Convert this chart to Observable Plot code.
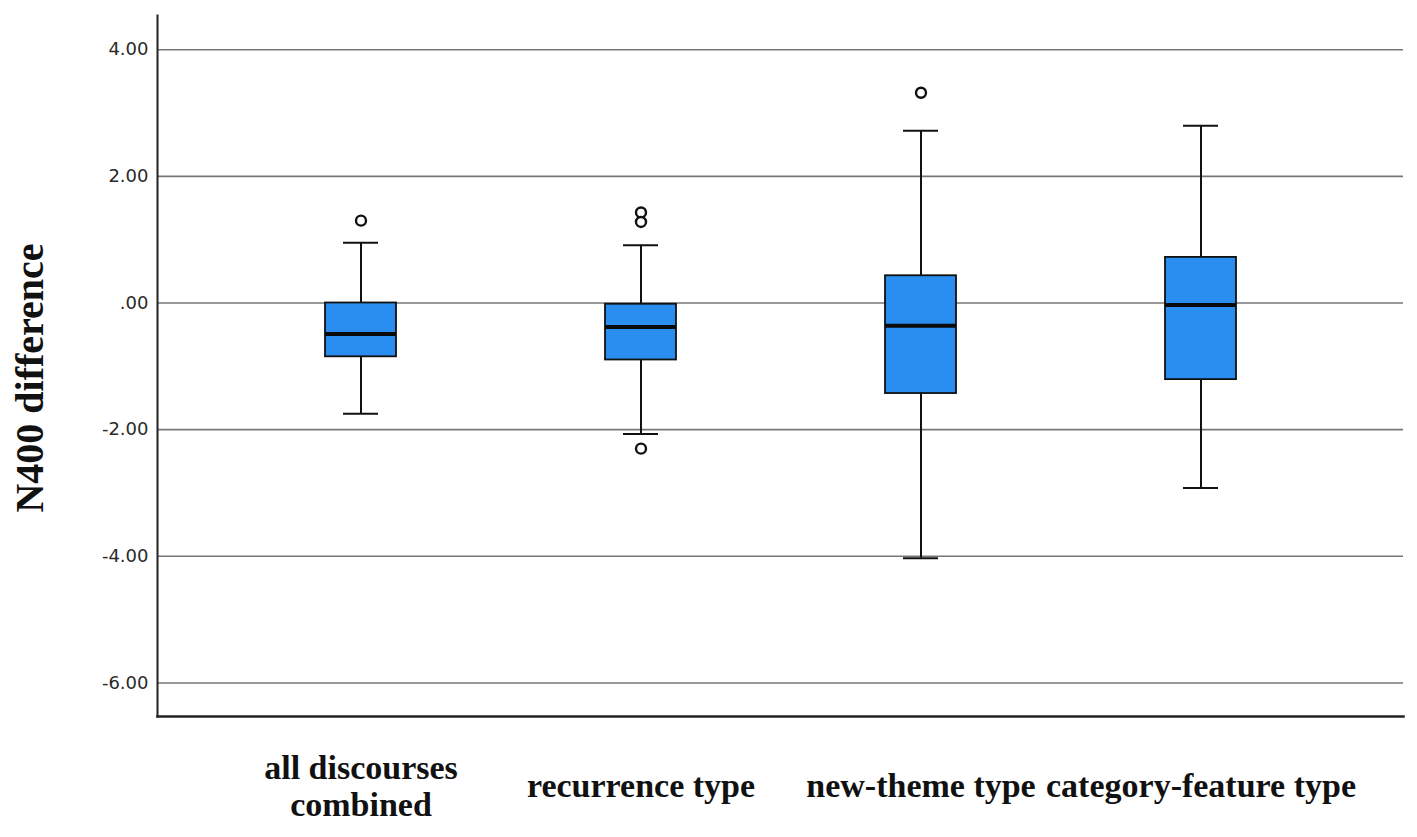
<!DOCTYPE html>
<html>
<head>
<meta charset="utf-8">
<script src="https://cdn.jsdelivr.net/npm/d3@7"></script>
<script src="https://cdn.jsdelivr.net/npm/@observablehq/plot@0.6"></script>
<style>
  html, body { margin: 0; padding: 0; background: #fff; }
</style>
</head>
<body>
<div id="chart"></div>
<script>
// ---- data ----
const categories = ["all discourses\ncombined", "recurrence type", "new-theme type", "category-feature type"];
const q1 = [-0.85, -0.90, -1.43, -1.21];
const median = [-0.49, -0.38, -0.36, -0.03];
const q3 = [0.00, -0.02, 0.43, 0.72];
const whiskerLow = [-1.75, -2.07, -4.03, -2.92];
const whiskerHigh = [0.95, 0.91, 2.72, 2.80];
const outlierCategory = [0, 1, 1, 1, 2];
const outlierValue = [1.30, 1.43, 1.28, -2.30, 3.32];
const yTicks = [-6, -4, -2, 0, 2, 4];
const yLabel = "N400 difference";

const boxes = categories.map((c, i) => ({
  cat: c, q1: q1[i], med: median[i], q3: q3[i], lo: whiskerLow[i], hi: whiskerHigh[i]
}));
const outliers = outlierCategory.map((ci, i) => ({cat: categories[ci], v: outlierValue[i]}));

const serif = "'Liberation Serif', 'Times New Roman', serif";

const chart = Plot.plot({
  width: 1417,
  height: 837,
  marginLeft: 157,
  marginRight: 14,
  marginTop: 15,
  marginBottom: 121,
  style: {background: "#fff", color: "#222"},
  x: {type: "band", domain: categories, paddingInner: 0.747, paddingOuter: 0.595, label: null},
  y: {domain: [-6.53, 4.54], label: null},
  marks: [
    Plot.gridY(yTicks, {stroke: "#777", strokeOpacity: 1, strokeWidth: 1.6}),
    Plot.axisY(yTicks, {
      tickSize: 0, tickPadding: 9, fontSize: 18, fontFamily: "'DejaVu Sans', sans-serif",
      fill: "#2a2a2a", tickFormat: d => d === 0 ? ".00" : d.toFixed(2), label: null
    }),
    Plot.axisX({
      tickSize: 0, tickPadding: 69, fontSize: 34, fontFamily: serif, fontWeight: "bold",
      lineAnchor: "middle", lineHeight: 1.1, fill: "#111", label: null
    }),
    Plot.frame({anchor: "left", stroke: "#222", strokeWidth: 2}),
    Plot.frame({anchor: "bottom", stroke: "#222", strokeWidth: 2.5}),
    // whiskers
    Plot.ruleX(boxes, {x: "cat", y1: "q3", y2: "hi", stroke: "#111", strokeWidth: 2}),
    Plot.ruleX(boxes, {x: "cat", y1: "lo", y2: "q1", stroke: "#111", strokeWidth: 2}),
    Plot.tickY(boxes, {x: "cat", y: "hi", stroke: "#111", strokeWidth: 2, insetLeft: 18, insetRight: 18}),
    Plot.tickY(boxes, {x: "cat", y: "lo", stroke: "#111", strokeWidth: 2, insetLeft: 18, insetRight: 18}),
    // boxes
    Plot.barY(boxes, {x: "cat", y1: "q1", y2: "q3", fill: "#2a8ef0", stroke: "#111", strokeWidth: 1.8}),
    Plot.tickY(boxes, {x: "cat", y: "med", stroke: "#0a0a0a", strokeWidth: 4}),
    // outliers
    Plot.dot(outliers, {x: "cat", y: "v", r: 5, stroke: "#111", strokeWidth: 2.4, fill: "#fff"}),
    // y title
    Plot.text([yLabel], {
      frameAnchor: "left", rotate: -90, dx: -127, dy: 12, fontSize: 40,
      fontFamily: serif, fontWeight: "bold", fill: "#111", textAnchor: "middle", lineAnchor: "middle"
    })
  ]
});
document.getElementById("chart").appendChild(chart);
</script>
</body>
</html>
